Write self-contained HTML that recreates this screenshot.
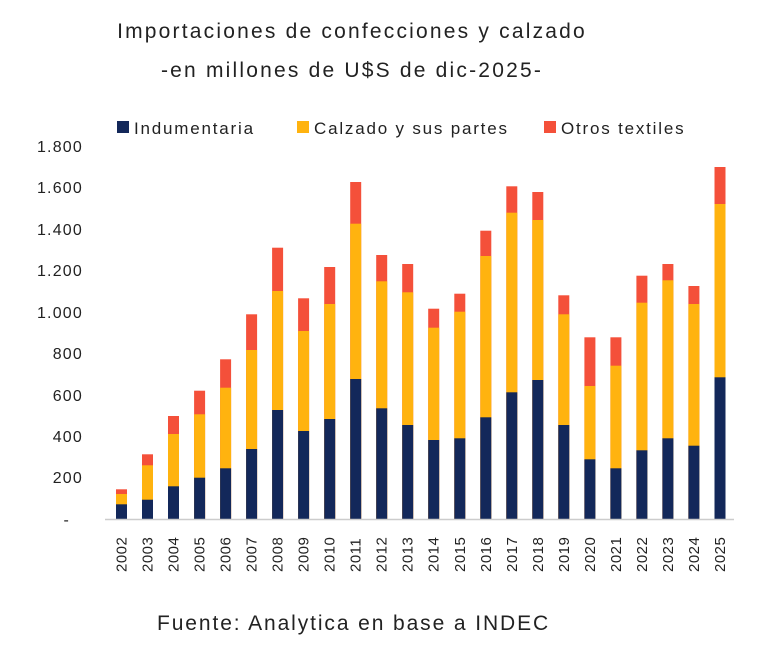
<!DOCTYPE html><html><head><style>body{margin:0;background:#fff}svg{display:block}</style></head><body>
<svg width="768" height="656" xmlns="http://www.w3.org/2000/svg" font-family="Liberation Sans, sans-serif">
<rect width="768" height="656" fill="#fff"/>
<text x="352" y="38" font-size="21" letter-spacing="2.2" text-anchor="middle" fill="#222">Importaciones de confecciones y calzado</text>
<text x="352" y="77" font-size="21" letter-spacing="2.2" text-anchor="middle" fill="#222">-en millones de U$S de dic-2025-</text>
<g font-size="17" letter-spacing="1.8" fill="#222">
<rect x="117" y="121" width="12" height="12" fill="#13285a"/><text x="134" y="134">Indumentaria</text>
<rect x="297" y="121" width="12" height="12" fill="#ffb30f"/><text x="314" y="134">Calzado y sus partes</text>
<rect x="544" y="121" width="12" height="12" fill="#f4503a"/><text x="561" y="134">Otros textiles</text>
</g>
<g font-size="16" letter-spacing="1.2" fill="#222" text-anchor="end">
<text x="83" y="152">1.800</text><text x="83" y="193">1.600</text><text x="83" y="235">1.400</text><text x="83" y="276">1.200</text><text x="83" y="318">1.000</text><text x="83" y="359">800</text><text x="83" y="401">600</text><text x="83" y="442">400</text><text x="83" y="483">200</text><text x="70" y="525">-</text>
</g>
<g fill="#f4503a">
<rect x="116" y="489.3" width="11" height="29.7"/><rect x="142" y="454.3" width="11" height="64.7"/><rect x="168" y="416" width="11" height="103"/><rect x="194.1" y="390.7" width="11" height="128.3"/><rect x="220.1" y="359.3" width="11" height="159.7"/><rect x="246.1" y="314.3" width="11" height="204.7"/><rect x="272.1" y="247.7" width="11" height="271.3"/><rect x="298.1" y="298.3" width="11" height="220.7"/><rect x="324.2" y="267" width="11" height="252"/><rect x="350.2" y="182" width="11" height="337"/><rect x="376.2" y="255" width="11" height="264"/><rect x="402.2" y="264" width="11" height="255"/><rect x="428.2" y="308.7" width="11" height="210.3"/><rect x="454.3" y="293.7" width="11" height="225.3"/><rect x="480.3" y="230.7" width="11" height="288.3"/><rect x="506.3" y="186.3" width="11" height="332.7"/><rect x="532.3" y="192" width="11" height="327"/><rect x="558.3" y="295.3" width="11" height="223.7"/><rect x="584.4" y="337.3" width="11" height="181.7"/><rect x="610.4" y="337.3" width="11" height="181.7"/><rect x="636.4" y="275.7" width="11" height="243.3"/><rect x="662.4" y="264" width="11" height="255"/><rect x="688.4" y="286" width="11" height="233"/><rect x="714.5" y="167" width="11" height="352"/>
</g>
<g fill="#ffb30f">
<rect x="116" y="494" width="11" height="25"/><rect x="142" y="465.3" width="11" height="53.7"/><rect x="168" y="434" width="11" height="85"/><rect x="194.1" y="414.3" width="11" height="104.7"/><rect x="220.1" y="387.7" width="11" height="131.3"/><rect x="246.1" y="350" width="11" height="169"/><rect x="272.1" y="291" width="11" height="228"/><rect x="298.1" y="331" width="11" height="188"/><rect x="324.2" y="304" width="11" height="215"/><rect x="350.2" y="223.7" width="11" height="295.3"/><rect x="376.2" y="281.3" width="11" height="237.7"/><rect x="402.2" y="292.3" width="11" height="226.7"/><rect x="428.2" y="327.7" width="11" height="191.3"/><rect x="454.3" y="311.7" width="11" height="207.3"/><rect x="480.3" y="256" width="11" height="263"/><rect x="506.3" y="212.7" width="11" height="306.3"/><rect x="532.3" y="220" width="11" height="299"/><rect x="558.3" y="314.3" width="11" height="204.7"/><rect x="584.4" y="386" width="11" height="133"/><rect x="610.4" y="365.7" width="11" height="153.3"/><rect x="636.4" y="302.7" width="11" height="216.3"/><rect x="662.4" y="280.3" width="11" height="238.7"/><rect x="688.4" y="304" width="11" height="215"/><rect x="714.5" y="204" width="11" height="315"/>
</g>
<g fill="#13285a">
<rect x="116" y="504.3" width="11" height="14.7"/><rect x="142" y="499.7" width="11" height="19.3"/><rect x="168" y="486.3" width="11" height="32.7"/><rect x="194.1" y="477.7" width="11" height="41.3"/><rect x="220.1" y="468.3" width="11" height="50.7"/><rect x="246.1" y="449" width="11" height="70"/><rect x="272.1" y="410" width="11" height="109"/><rect x="298.1" y="431" width="11" height="88"/><rect x="324.2" y="419" width="11" height="100"/><rect x="350.2" y="379" width="11" height="140"/><rect x="376.2" y="408.3" width="11" height="110.7"/><rect x="402.2" y="425" width="11" height="94"/><rect x="428.2" y="440" width="11" height="79"/><rect x="454.3" y="438.3" width="11" height="80.7"/><rect x="480.3" y="417.3" width="11" height="101.7"/><rect x="506.3" y="392.3" width="11" height="126.7"/><rect x="532.3" y="380" width="11" height="139"/><rect x="558.3" y="425" width="11" height="94"/><rect x="584.4" y="459.3" width="11" height="59.7"/><rect x="610.4" y="468.3" width="11" height="50.7"/><rect x="636.4" y="450.3" width="11" height="68.7"/><rect x="662.4" y="438.3" width="11" height="80.7"/><rect x="688.4" y="445.7" width="11" height="73.3"/><rect x="714.5" y="377.3" width="11" height="141.7"/>
</g>
<line x1="105" y1="519.5" x2="734" y2="519.5" stroke="#ccc" stroke-width="1.5"/>
<g font-size="15" fill="#222" letter-spacing="0.5">
<text transform="translate(126.5,572) rotate(-90)">2002</text><text transform="translate(152.5,572) rotate(-90)">2003</text><text transform="translate(178.5,572) rotate(-90)">2004</text><text transform="translate(204.6,572) rotate(-90)">2005</text><text transform="translate(230.6,572) rotate(-90)">2006</text><text transform="translate(256.6,572) rotate(-90)">2007</text><text transform="translate(282.6,572) rotate(-90)">2008</text><text transform="translate(308.6,572) rotate(-90)">2009</text><text transform="translate(334.7,572) rotate(-90)">2010</text><text transform="translate(360.7,572) rotate(-90)">2011</text><text transform="translate(386.7,572) rotate(-90)">2012</text><text transform="translate(412.7,572) rotate(-90)">2013</text><text transform="translate(438.7,572) rotate(-90)">2014</text><text transform="translate(464.8,572) rotate(-90)">2015</text><text transform="translate(490.8,572) rotate(-90)">2016</text><text transform="translate(516.8,572) rotate(-90)">2017</text><text transform="translate(542.8,572) rotate(-90)">2018</text><text transform="translate(568.8,572) rotate(-90)">2019</text><text transform="translate(594.9,572) rotate(-90)">2020</text><text transform="translate(620.9,572) rotate(-90)">2021</text><text transform="translate(646.9,572) rotate(-90)">2022</text><text transform="translate(672.9,572) rotate(-90)">2023</text><text transform="translate(698.9,572) rotate(-90)">2024</text><text transform="translate(725,572) rotate(-90)">2025</text>
</g>
<text x="157" y="630" font-size="21" letter-spacing="1.9" fill="#222">Fuente: Analytica en base a INDEC</text>
</svg></body></html>
